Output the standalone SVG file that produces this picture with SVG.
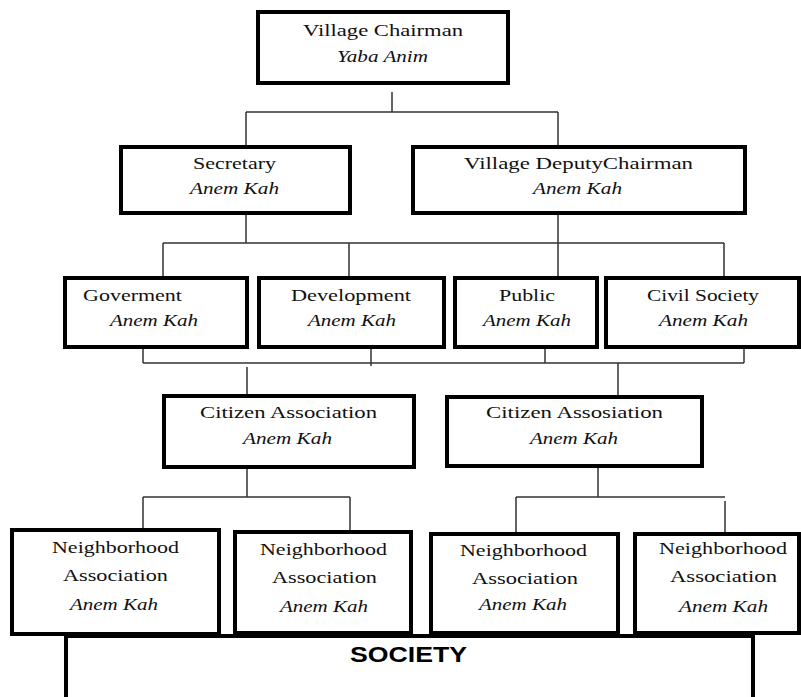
<svg xmlns="http://www.w3.org/2000/svg" width="801" height="697" viewBox="0 0 801 697">
<style>
.box{fill:#fff;stroke:#000;stroke-width:4}
.t{font-family:"Liberation Serif","Times New Roman",serif;font-size:17px;fill:#111}
.i{font-style:italic}
.c{fill:none;stroke:#333;stroke-width:1.5}
.soc{fill:none;stroke:#000;stroke-width:4}
.st{font-family:"Liberation Sans",Arial,sans-serif;font-size:22px;font-weight:bold;fill:#000}
</style>
<rect width="801" height="697" fill="#fff"/>
<g id="society">
<rect class="soc" x="66" y="636" width="687" height="120"/>
<text class="st" x="350" y="662" textLength="117" lengthAdjust="spacingAndGlyphs">SOCIETY</text>
</g>
<g id="connectors">
<path class="c" d="M392,92V112M246,112H558M246,112V145M558,112V145"/>
<path class="c" d="M246,215V243M558,215V243M163,243H724M163,243V276M349,243V276M558,243V276M724,243V277"/>
<path class="c" d="M143,349V363M371,349V366M545,349V363M744,349V363M143,363H744M247,367V394M618,363V395"/>
<path class="c" d="M247,469V497M143,497H350M143,497V528M350,497V530"/>
<path class="c" d="M598,468V497M516,497H725M516,497V532M725,501V532"/>
</g>
<g id="chairman">
<rect class="box" x="258" y="12" width="250" height="71"/>
<text class="t" x="303" y="36" textLength="160" lengthAdjust="spacingAndGlyphs">Village Chairman</text>
<text class="t i" x="337" y="62" textLength="91" lengthAdjust="spacingAndGlyphs">Yaba Anim</text>
</g>
<g id="secretary">
<rect class="box" x="121" y="147" width="229" height="66"/>
<text class="t" x="193" y="169" textLength="83" lengthAdjust="spacingAndGlyphs">Secretary</text>
<text class="t i" x="190" y="194" textLength="89" lengthAdjust="spacingAndGlyphs">Anem Kah</text>
</g>
<g id="deputy">
<rect class="box" x="413" y="147" width="332" height="66"/>
<text class="t" x="464" y="169" textLength="229" lengthAdjust="spacingAndGlyphs">Village DeputyChairman</text>
<text class="t i" x="533" y="194" textLength="89" lengthAdjust="spacingAndGlyphs">Anem Kah</text>
</g>
<g id="goverment">
<rect class="box" x="65" y="278" width="182" height="69"/>
<text class="t" x="83" y="301" textLength="99" lengthAdjust="spacingAndGlyphs">Goverment</text>
<text class="t i" x="110" y="326" textLength="88" lengthAdjust="spacingAndGlyphs">Anem Kah</text>
</g>
<g id="development">
<rect class="box" x="259" y="278" width="185" height="69"/>
<text class="t" x="291" y="301" textLength="120" lengthAdjust="spacingAndGlyphs">Development</text>
<text class="t i" x="308" y="326" textLength="88" lengthAdjust="spacingAndGlyphs">Anem Kah</text>
</g>
<g id="public">
<rect class="box" x="455" y="278" width="142" height="69"/>
<text class="t" x="499" y="301" textLength="56" lengthAdjust="spacingAndGlyphs">Public</text>
<text class="t i" x="483" y="326" textLength="88" lengthAdjust="spacingAndGlyphs">Anem Kah</text>
</g>
<g id="civil-society">
<rect class="box" x="606" y="278" width="193" height="69"/>
<text class="t" x="647" y="301" textLength="112" lengthAdjust="spacingAndGlyphs">Civil Society</text>
<text class="t i" x="659" y="326" textLength="89" lengthAdjust="spacingAndGlyphs">Anem Kah</text>
</g>
<g id="citizen-1">
<rect class="box" x="164" y="396" width="250" height="71"/>
<text class="t" x="200" y="418" textLength="177" lengthAdjust="spacingAndGlyphs">Citizen Association</text>
<text class="t i" x="243" y="444" textLength="89" lengthAdjust="spacingAndGlyphs">Anem Kah</text>
</g>
<g id="citizen-2">
<rect class="box" x="447" y="397" width="255" height="69"/>
<text class="t" x="486" y="418" textLength="177" lengthAdjust="spacingAndGlyphs">Citizen Assosiation</text>
<text class="t i" x="530" y="444" textLength="88" lengthAdjust="spacingAndGlyphs">Anem Kah</text>
</g>
<g id="neighborhood-1">
<rect class="box" x="12" y="530" width="207" height="104"/>
<text class="t" x="52" y="553" textLength="127" lengthAdjust="spacingAndGlyphs">Neighborhood</text>
<text class="t" x="63" y="581" textLength="105" lengthAdjust="spacingAndGlyphs">Association</text>
<text class="t i" x="70" y="610" textLength="88" lengthAdjust="spacingAndGlyphs">Anem Kah</text>
</g>
<g id="neighborhood-2">
<rect class="box" x="235" y="532" width="176" height="101"/>
<text class="t" x="260" y="555" textLength="127" lengthAdjust="spacingAndGlyphs">Neighborhood</text>
<text class="t" x="272" y="583" textLength="105" lengthAdjust="spacingAndGlyphs">Association</text>
<text class="t i" x="280" y="612" textLength="88" lengthAdjust="spacingAndGlyphs">Anem Kah</text>
</g>
<g id="neighborhood-3">
<rect class="box" x="431" y="534" width="187" height="99"/>
<text class="t" x="460" y="556" textLength="127" lengthAdjust="spacingAndGlyphs">Neighborhood</text>
<text class="t" x="472" y="584" textLength="106" lengthAdjust="spacingAndGlyphs">Association</text>
<text class="t i" x="479" y="610" textLength="88" lengthAdjust="spacingAndGlyphs">Anem Kah</text>
</g>
<g id="neighborhood-4">
<rect class="box" x="635" y="534" width="164" height="99"/>
<text class="t" x="659" y="554" textLength="128" lengthAdjust="spacingAndGlyphs">Neighborhood</text>
<text class="t" x="670" y="582" textLength="107" lengthAdjust="spacingAndGlyphs">Association</text>
<text class="t i" x="679" y="612" textLength="89" lengthAdjust="spacingAndGlyphs">Anem Kah</text>
</g>
</svg>
